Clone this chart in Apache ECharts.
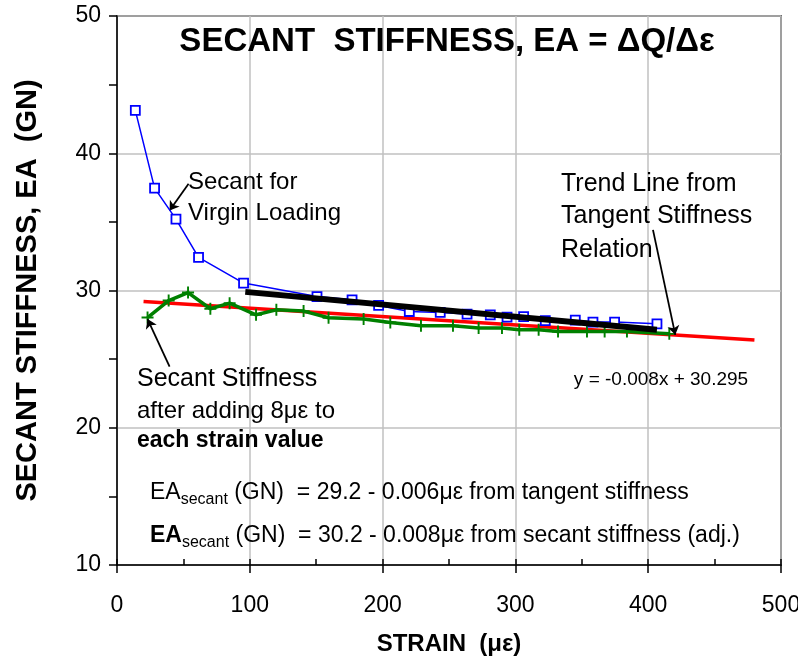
<!DOCTYPE html>
<html><head><meta charset="utf-8">
<script src="https://cdn.jsdelivr.net/npm/echarts@6/dist/echarts.min.js"></script>
<style>html,body{margin:0;padding:0;background:#fff}#c{width:798px;height:663px}</style>
</head><body><div id="c"></div>
<script>
// Secant stiffness, virgin loading (blue squares)
const secantStrain = [13.8, 28.3, 44.4, 61.4, 95.3, 150.6, 177.0, 197.0, 220.1, 243.4, 263.6, 281.1, 293.7, 306.2, 322.5, 345.1, 358.4, 374.7, 406.6];
const secantEA     = [43.12, 37.46, 35.20, 32.41, 30.54, 29.56, 29.32, 28.91, 28.47, 28.40, 28.28, 28.23, 28.06, 28.10, 27.81, 27.84, 27.70, 27.70, 27.57];
// Secant stiffness after adding 8 microstrain (green plus)
const adjStrain = [23.0, 38.9, 53.5, 70.3, 84.8, 104.7, 120.0, 140.5, 159.3, 185.7, 205.8, 228.9, 253.0, 272.3, 289.9, 302.9, 317.5, 332.1, 353.9, 367.2, 384.0, 415.9];
const adjEA     = [28.03, 29.27, 29.85, 28.67, 29.08, 28.23, 28.59, 28.50, 28.01, 27.92, 27.67, 27.43, 27.43, 27.26, 27.26, 27.14, 27.14, 27.01, 27.01, 27.01, 27.01, 26.84];
// Trend line from tangent stiffness relation (red)
const tangentStrain = [20, 480];
const tangentEA     = [29.2, 26.4];
// Trend line of secant stiffness (black)
const trendStrain = [96.6, 406.6];
const trendEA     = [29.9, 27.14];
// Axis ticks
const xTicks = [0, 100, 200, 300, 400, 500];
const yTicks = [10, 20, 30, 40, 50];
// Annotation arrows [fromX, fromY, toX, toY] in data units
const arrowVirgin = [53.9, 37.78, 39.6, 35.83];
const arrowAdj    = [39.6, 24.46, 23.0, 27.92];
const arrowTrend  = [403.6, 34.42, 420.4, 26.77];

const FF = '"Liberation Sans", Arial, sans-serif';
const pairs = (xs, ys) => xs.map((x, i) => [x, ys[i]]);
const arrowData = a => [{coord: [a[0], a[1]]}, {coord: [a[2], a[3]]}];
const PLUS = 'path://M4.2,0H5.8V10H4.2ZM0,4.2H10V5.8H0Z';

const chart = echarts.init(document.getElementById('c'), null, {renderer: 'canvas'});
const xMin = xTicks[0], xMax = xTicks[xTicks.length - 1], xInt = xTicks[1] - xTicks[0];
const yMin = yTicks[0], yMax = yTicks[yTicks.length - 1], yInt = yTicks[1] - yTicks[0];

chart.setOption({
  animation: false,
  backgroundColor: '#fff',
  grid: {left: 117, right: 17, top: 16, bottom: 98, containLabel: false, outerBoundsMode: 'none',
         show: true, borderColor: '#000', borderWidth: 1.5, backgroundColor: 'transparent'},
  xAxis: [{
    type: 'value', min: xMin, max: xMax, interval: xInt,
    name: 'STRAIN  (\u03bc\u03b5)', nameLocation: 'middle', nameGap: 67,
    nameTextStyle: {fontFamily: FF, fontSize: 24, fontWeight: 'bold', color: '#000'},
    axisLine: {show: true, lineStyle: {color: '#000', width: 1.5}},
    axisTick: {show: true, inside: false, length: 8, lineStyle: {color: '#000', width: 1.5}},
    axisLabel: {fontFamily: FF, fontSize: 23, color: '#000', margin: 29, hideOverlap: false},
    splitLine: {show: true, lineStyle: {color: '#c0c0c0', width: 1.5}}
  }, {
    type: 'value', min: xMin, max: xMax, interval: xInt, position: 'bottom',
    axisLine: {show: false},
    axisTick: {show: true, inside: true, length: 6, lineStyle: {color: '#000', width: 1.5}},
    minorTick: {show: true, splitNumber: 2, length: 6, lineStyle: {color: '#000', width: 1.5}},
    axisLabel: {show: false}, splitLine: {show: false}
  }],
  yAxis: {
    type: 'value', min: yMin, max: yMax, interval: yInt,
    name: 'SECANT STIFFNESS, EA  (GN)', nameLocation: 'middle', nameGap: 75,
    nameTextStyle: {fontFamily: FF, fontSize: 29, fontWeight: 'bold', color: '#000'},
    axisLine: {show: true, lineStyle: {color: '#000', width: 1.5}},
    axisTick: {show: true, inside: false, length: 8, lineStyle: {color: '#000', width: 1.5}},
    minorTick: {show: true, splitNumber: 2, length: 8, lineStyle: {color: '#000', width: 1.5}},
    axisLabel: {fontFamily: FF, fontSize: 23, color: '#000', margin: 16},
    splitLine: {show: true, lineStyle: {color: '#c0c0c0', width: 1.5}}
  },
  series: [
    {
      type: 'line', name: 'tangent', data: pairs(tangentStrain, tangentEA),
      showSymbol: false, symbol: 'none', lineStyle: {color: '#ff0000', width: 3.5}, z: 3
    },
    {
      type: 'line', name: 'adjusted', data: pairs(adjStrain, adjEA),
      symbol: PLUS, symbolSize: 12, itemStyle: {color: '#008000'},
      lineStyle: {color: '#008000', width: 3.5}, z: 4,
      markLine: {
        silent: true, symbol: ['none', 'arrow'], symbolSize: 9,
        label: {show: false},
        lineStyle: {color: '#000', width: 1.8, type: 'solid'},
        data: [arrowData(arrowVirgin), arrowData(arrowAdj), arrowData(arrowTrend)]
      }
    },
    {
      type: 'line', name: 'secant', data: pairs(secantStrain, secantEA),
      symbol: 'rect', symbolSize: 9,
      itemStyle: {color: '#fff', borderColor: '#0000ff', borderWidth: 1.8},
      lineStyle: {color: '#0000ff', width: 1.5}, z: 5
    },
    {
      type: 'line', name: 'trend', data: pairs(trendStrain, trendEA),
      symbol: 'none', lineStyle: {color: '#000', width: 6}, z: 6
    }
  ],
  graphic: [
    {type: 'text', x: 447, y: 42, z: 100, style: {text: 'SECANT  STIFFNESS, EA = \u0394Q/\u0394\u03b5', fontFamily: FF, fontSize: 33, fontWeight: 'bold', fill: '#000', align: 'center', verticalAlign: 'middle'}},
    {type: 'text', x: 188, y: 182, z: 100, style: {text: 'Secant for', fontFamily: FF, fontSize: 24, fill: '#000', align: 'left', verticalAlign: 'middle'}},
    {type: 'text', x: 188, y: 213.7, z: 100, style: {text: 'Virgin Loading', fontFamily: FF, fontSize: 24, fill: '#000', align: 'left', verticalAlign: 'middle'}},
    {type: 'text', x: 561, y: 184.5, z: 100, style: {text: 'Trend Line from', fontFamily: FF, fontSize: 25, fill: '#000', align: 'left', verticalAlign: 'middle'}},
    {type: 'text', x: 561, y: 216.3, z: 100, style: {text: 'Tangent Stiffness', fontFamily: FF, fontSize: 25, fill: '#000', align: 'left', verticalAlign: 'middle'}},
    {type: 'text', x: 561, y: 250.3, z: 100, style: {text: 'Relation', fontFamily: FF, fontSize: 25, fill: '#000', align: 'left', verticalAlign: 'middle'}},
    {type: 'text', x: 137, y: 378.7, z: 100, style: {text: 'Secant Stiffness', fontFamily: FF, fontSize: 25, fill: '#000', align: 'left', verticalAlign: 'middle'}},
    {type: 'text', x: 137, y: 411.3, z: 100, style: {text: 'after adding 8\u03bc\u03b5 to', fontFamily: FF, fontSize: 24, fill: '#000', align: 'left', verticalAlign: 'middle'}},
    {type: 'text', x: 137, y: 440.3, z: 100, style: {text: 'each strain value', fontFamily: FF, fontSize: 23, fontWeight: 'bold', fill: '#000', align: 'left', verticalAlign: 'middle'}},
    {type: 'text', x: 661, y: 380, z: 100, style: {text: 'y = -0.008x + 30.295', fontFamily: FF, fontSize: 19, fill: '#000', align: 'center', verticalAlign: 'middle'}},
    {type: 'text', x: 150, y: 492.6, z: 100, style: {
      text: '{m|EA}{s|secant}{m| (GN)  = 29.2 - 0.006\u03bc\u03b5 from tangent stiffness}',
      fontFamily: FF, fontSize: 23, fill: '#000', align: 'left', verticalAlign: 'middle',
      rich: {m: {fontFamily: FF, fontSize: 23, fill: '#000'}, s: {fontFamily: FF, fontSize: 16, fill: '#000', padding: [13, 0, 0, 0]}}
    }},
    {type: 'text', x: 150, y: 535.6, z: 100, style: {
      text: '{b|EA}{s|secant}{m| (GN)  = 30.2 - 0.008\u03bc\u03b5 from secant stiffness (adj.)}',
      fontFamily: FF, fontSize: 23, fill: '#000', align: 'left', verticalAlign: 'middle',
      rich: {m: {fontFamily: FF, fontSize: 23, fill: '#000'}, b: {fontFamily: FF, fontSize: 23, fontWeight: 'bold', fill: '#000'}, s: {fontFamily: FF, fontSize: 16, fill: '#000', padding: [13, 0, 0, 0]}}
    }}
  ]
});
</script>
</body></html>
